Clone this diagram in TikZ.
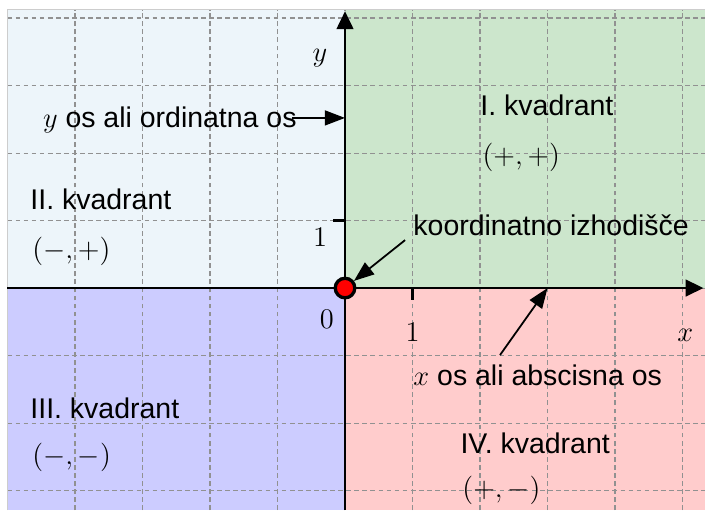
\documentclass[tikz,border=0pt]{standalone}
\usepackage{fontspec}
\setmainfont{Liberation Sans}
\usetikzlibrary{arrows.meta}
\definecolor{qone}{RGB}{204,230,204}
\definecolor{qtwo}{RGB}{237,245,250}
\definecolor{qthree}{RGB}{204,204,255}
\definecolor{qfour}{RGB}{255,204,204}
\definecolor{gridc}{RGB}{145,145,145}
\definecolor{framec}{RGB}{205,205,205}
\begin{document}
\begin{tikzpicture}[x=1cm,y=1cm,
  font=\fontsize{12}{14}\selectfont,
  gridline/.style={gridc, line width=0.45pt, dash pattern=on 2pt off 1.4pt},
  axisline/.style={black, line width=1pt},
  axisarrow/.style={axisline, -{Triangle[length=7.5pt,width=7pt]}},
  labelarrow/.style={black, line width=0.75pt, -{Triangle[length=8.5pt,width=6.3pt]}},
  txt/.style={inner sep=0pt, anchor=base west},
  mtxt/.style={inner sep=0pt, anchor=base west, font=\fontsize{13}{15}\selectfont},
  num/.style={inner sep=0pt, font=\fontsize{12.5}{15}\selectfont}]
\useasboundingbox (-5.111,-3.289) rectangle (5.333,4.267);
% quadrants
\fill[qtwo] (-5,0) rectangle (0,4.126);
\fill[qone] (0,0) rectangle (5.333,4.126);
\fill[qthree] (-5,-3.289) rectangle (0,0);
\fill[qfour] (0,-3.289) rectangle (5.333,0);
% grid
\foreach \i in {-4,...,5} \draw[gridline] (\i,-3.289) -- (\i,4.126);
\foreach \j in {-3,...,4} \draw[gridline] (-5,\j) -- (5.333,\j);
% frame
\draw[framec, line width=0.7pt] (-5,-3.289) -- (-5,4.126) -- (5.333,4.126);
% axes
\draw[axisarrow] (-5,0) -- (5.31,0);
\draw[axisarrow] (0,-3.289) -- (0,4.10);
% ticks
\draw[axisline] (1,0) -- (1,-0.18);
\draw[axisline] (0,1) -- (-0.18,1);
% axis labels
\node[num] (lzero) at (-0.27,-0.47) {$0$};
\node[num] (lxone) at (1,-0.66) {$1$};
\node[num] (lyone) at (-0.37,0.75) {$1$};
\node[num] (lx) at (5.04,-0.70) {$x$};
\node[num] (ly) at (-0.37,3.41) {$y$};
% quadrant labels
\node[txt] (q1) at (2.0,2.563) {I. kvadrant};
\node[mtxt] (q1s) at (2.03,1.837) {$(+,+)$};
\node[txt] (q2) at (-4.667,1.170) {II. kvadrant};
\node[mtxt] (q2s) at (-4.637,0.444) {$(-,+)$};
\node[txt] (q3) at (-4.667,-1.926) {III. kvadrant};
\node[mtxt] (q3s) at (-4.637,-2.62) {$(-,-)$};
\node[txt] (q4) at (1.704,-2.444) {IV. kvadrant};
\node[mtxt] (q4s) at (1.733,-3.096) {$(+,-)$};
% origin
\node[circle, fill=red, draw=black, line width=1.4pt, minimum size=0.29cm, inner sep=0pt] (O) at (0,0) {};
% annotations
\node[txt] (kio) at (1.007,0.785) {koordinatno izhodišče};
\coordinate (kstart) at (0.89,0.71);
\draw[labelarrow] (kstart) -- (O);
\node[inner sep=0pt, anchor=base east] (yos) at (-0.71,2.385) {$y$ os ali ordinatna os};
\coordinate (ystart) at (-0.78,2.52);
\coordinate (yend) at (0,2.52);
\draw[labelarrow] (ystart) -- (yend);
\node[txt] (xos) at (1.007,-1.437) {$x$ os ali abscisna os};
\coordinate (xstart) at (2.296,-0.993);
\coordinate (xend) at (3,0);
\draw[labelarrow] (xstart) -- (xend);
\end{tikzpicture}
\end{document}
